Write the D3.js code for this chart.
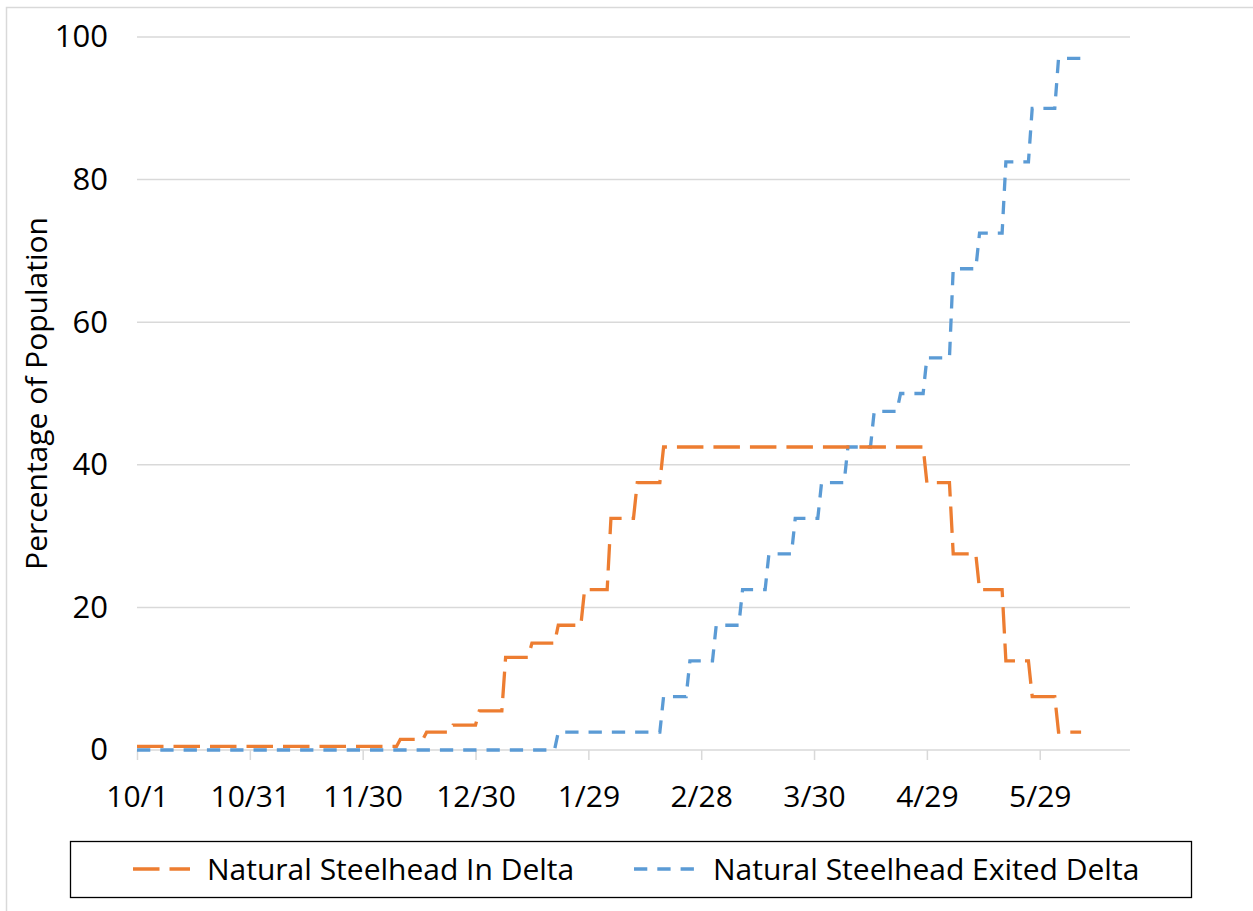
<!DOCTYPE html>
<html>
<head>
<meta charset="utf-8">
<script src="https://cdn.jsdelivr.net/npm/d3@7/dist/d3.min.js"></script>
<style>
  html, body { margin: 0; padding: 0; background: #fff; }
  svg { display: block; font-family: "Open Sans", "Noto Sans", sans-serif; }
</style>
</head>
<body>
<svg id="chart" width="1253" height="911"></svg>
<script>
// Weekly percentages, one value per week beginning 1 October
const seasonStart = new Date(2018, 9, 1);
const inDelta = [
  0.5, 0.5, 0.5, 0.5, 0.5, 0.5, 0.5, 0.5, 0.5, 0.5,
  1.5, 2.5, 3.5, 5.5, 13, 15, 17.5, 22.5, 32.5, 37.5,
  42.5, 42.5, 42.5, 42.5, 42.5, 42.5, 42.5, 42.5, 42.5, 42.5,
  37.5, 27.5, 22.5, 12.5, 7.5, 2.5
];
const exitedDelta = [
  0, 0, 0, 0, 0, 0, 0, 0, 0, 0,
  0, 0, 0, 0, 0, 0, 2.5, 2.5, 2.5, 2.5,
  7.5, 12.5, 17.5, 22.5, 27.5, 32.5, 37.5, 42.5, 47.5, 50,
  55, 67.5, 72.5, 82.5, 90, 97
];
const seriesNames = ["Natural Steelhead In Delta", "Natural Steelhead Exited Delta"];
const xTickLabels = ["10/1", "10/31", "11/30", "12/30", "1/29", "2/28", "3/30", "4/29", "5/29"];
const yTicks = [0, 20, 40, 60, 80, 100];
const yTitle = "Percentage of Population";

const svg = d3.select("#chart");
const plot = { left: 137, right: 1130, top: 37, bottom: 750 };
const FONT = "'Open Sans', 'Noto Sans', sans-serif";

// Outer chart frame
svg.append("rect")
  .attr("x", 6.5).attr("y", 7.5).attr("width", 1270).attr("height", 930)
  .attr("fill", "none").attr("stroke", "#d9d9d9").attr("stroke-width", 1.5);

const day = d3.timeDay;
const x = d3.scaleTime()
  .domain([seasonStart, day.offset(seasonStart, 264.4)])
  .range([plot.left, plot.right]);
const y = d3.scaleLinear().domain([0, 100]).range([plot.bottom, plot.top]);

const tickDates = xTickLabels.map((_, i) => day.offset(seasonStart, 30 * i));

// Horizontal gridlines
svg.append("g").selectAll("line").data(yTicks.filter(d => d > 0)).join("line")
  .attr("x1", plot.left).attr("x2", plot.right)
  .attr("y1", d => y(d)).attr("y2", d => y(d))
  .attr("stroke", "#d9d9d9").attr("stroke-width", 1.5);

// X axis
const xAxis = d3.axisBottom(x)
  .tickValues(tickDates)
  .tickFormat((d, i) => xTickLabels[i])
  .tickSize(10).tickSizeOuter(0).tickPadding(26);
const gx = svg.append("g").attr("transform", `translate(0,${plot.bottom})`).call(xAxis);
gx.select(".domain").attr("stroke", "#d9d9d9").attr("stroke-width", 1.5)
  .attr("d", `M${plot.left},0H${plot.right}`);
gx.selectAll(".tick line").attr("stroke", "#d9d9d9").attr("stroke-width", 1.5);
gx.selectAll(".tick text").attr("fill", "#000").attr("font-size", 30)
  .attr("font-family", FONT);

// Y axis labels
const yAxis = d3.axisLeft(y).tickValues(yTicks).tickSize(0).tickPadding(29);
const gy = svg.append("g").attr("transform", `translate(${plot.left},0)`).call(yAxis);
gy.select(".domain").remove();
gy.selectAll(".tick text").attr("fill", "#000").attr("font-size", 31)
  .attr("font-family", FONT);

// Y axis title
svg.append("text")
  .attr("transform", `translate(47,${(plot.top + plot.bottom) / 2}) rotate(-90)`)
  .attr("text-anchor", "middle")
  .attr("font-size", 30).attr("fill", "#000")
  .text(yTitle);

// Weekly step lines: each value holds for six days, then moves to the next week's value
function stepPoints(values) {
  const pts = [];
  values.forEach((v, i) => {
    const start = day.offset(seasonStart, 7 * i);
    pts.push([start, v]);
    pts.push([day.offset(start, 6), v]);
  });
  return pts;
}
const line = d3.line().x(d => x(d[0])).y(d => y(d[1]));

const styles = [
  { values: inDelta, color: "#ED7D31", dash: "26.5 10" },
  { values: exitedDelta, color: "#5B9BD5", dash: "13.3 10" }
];

svg.append("g").selectAll("path").data(styles.slice().reverse()).join("path")
  .attr("d", d => line(stepPoints(d.values)))
  .attr("fill", "none")
  .attr("stroke", d => d.color)
  .attr("stroke-width", 3.3)
  .attr("stroke-dasharray", d => d.dash)
  .attr("stroke-linejoin", "miter");

// Legend
const legend = svg.append("g");
legend.append("rect")
  .attr("x", 70.5).attr("y", 841.5).attr("width", 1121).attr("height", 56)
  .attr("fill", "#fff").attr("stroke", "#000").attr("stroke-width", 1.3);
const legendItems = [
  { name: seriesNames[0], color: styles[0].color, dash: styles[0].dash, x1: 133, x2: 190, tx: 207 },
  { name: seriesNames[1], color: styles[1].color, dash: styles[1].dash, x1: 634, x2: 697, tx: 713 }
];
legendItems.forEach(it => {
  legend.append("line")
    .attr("x1", it.x1).attr("x2", it.x2).attr("y1", 869).attr("y2", 869)
    .attr("stroke", it.color).attr("stroke-width", 3.3).attr("stroke-dasharray", it.dash);
  legend.append("text")
    .attr("x", it.tx).attr("y", 869).attr("dy", "0.35em")
    .attr("font-size", 30).attr("fill", "#000")
    .text(it.name);
});
</script>
</body>
</html>
